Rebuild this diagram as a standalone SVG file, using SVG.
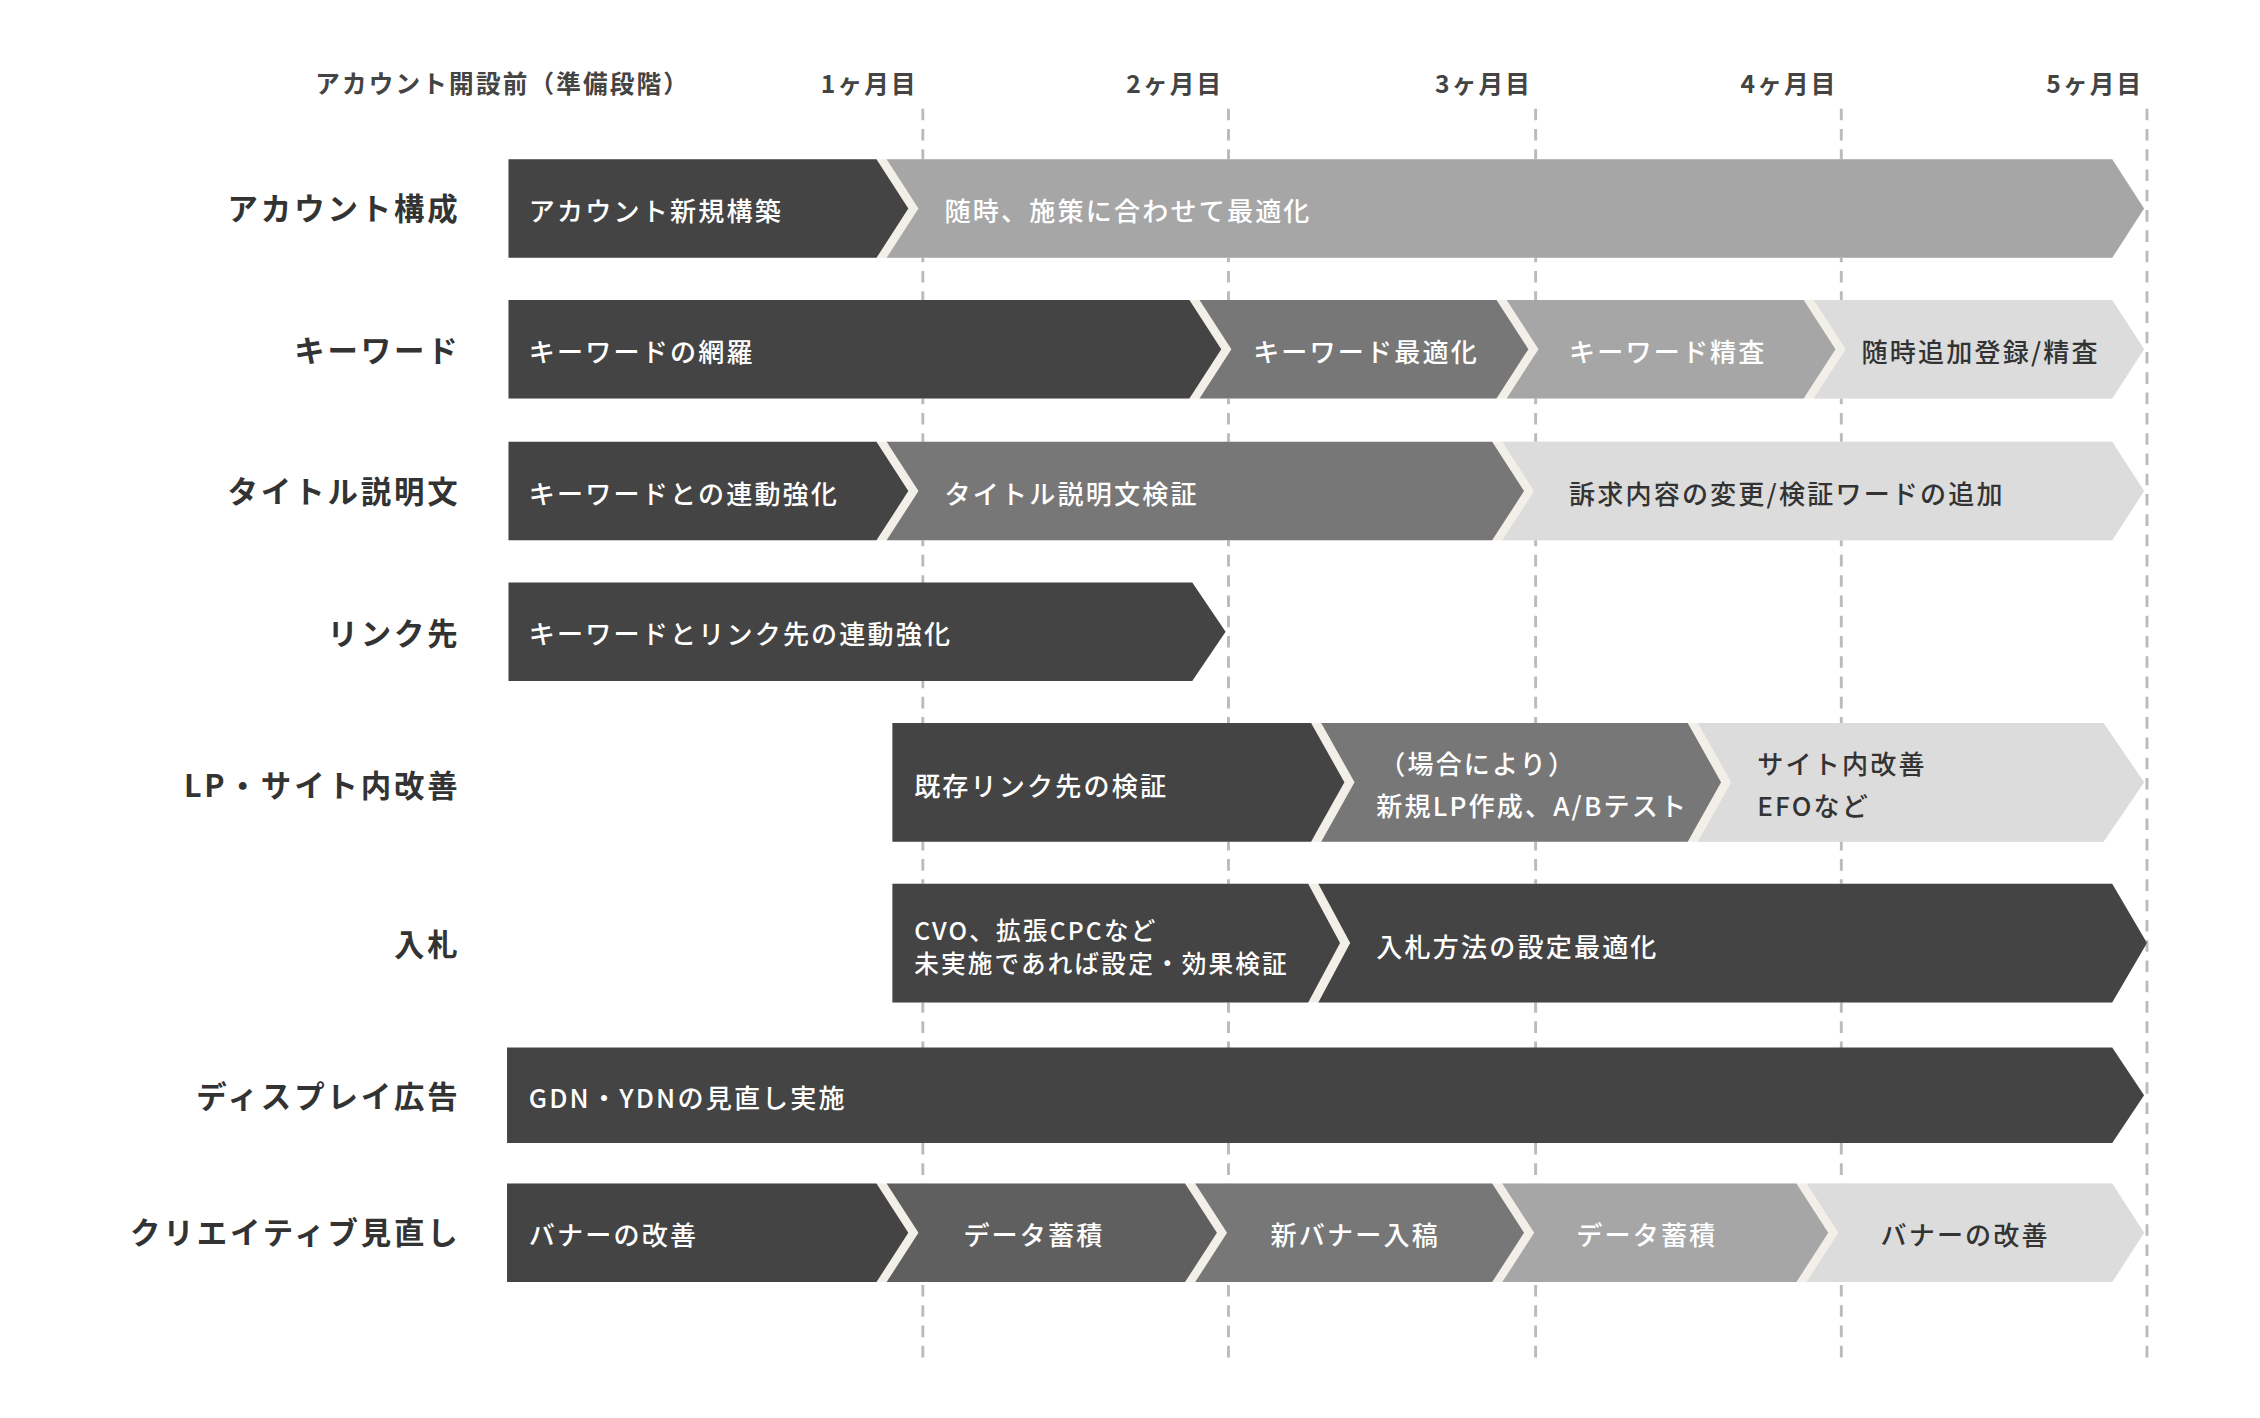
<svg xmlns="http://www.w3.org/2000/svg" width="2260" height="1418" viewBox="0 0 2260 1418">
<style>
.hd{font-family:"Noto Sans CJK JP","Noto Sans",sans-serif;font-weight:700;font-size:17px;fill:#444;letter-spacing:1.5px}
.rl{font-family:"Noto Sans CJK JP","Noto Sans",sans-serif;font-weight:700;font-size:21px;fill:#333;letter-spacing:2px;text-anchor:end}
.t{font-family:"Noto Sans CJK JP","Noto Sans",sans-serif;font-weight:500;font-size:18px;fill:#fff;letter-spacing:1.5px;dominant-baseline:central}
.d{fill:#333}
.bg{fill:#f2efe8}
.c1{fill:#444}.c2{fill:#5f5f5f}.c3{fill:#777}.c4{fill:#a6a6a6}.c5{fill:#dcdcdc}
.grid{stroke:#bbb;stroke-width:2;stroke-dasharray:8 6}
</style>
<rect width="2260" height="1418" fill="#fff"/>
<g transform="scale(1.4487)">
<g id="grid">
<line class="grid" x1="637" y1="75" x2="637" y2="942"/>
<line class="grid" x1="848" y1="75" x2="848" y2="942"/>
<line class="grid" x1="1060" y1="75" x2="1060" y2="942"/>
<line class="grid" x1="1271" y1="75" x2="1271" y2="942"/>
<line class="grid" x1="1482" y1="75" x2="1482" y2="942"/>
</g>
<g id="header">
<text class="hd" x="347" y="64" text-anchor="middle">アカウント開設前（準備段階）</text>
<text class="hd" x="600" y="64" text-anchor="middle">1ヶ月目</text>
<text class="hd" x="811" y="64" text-anchor="middle">2ヶ月目</text>
<text class="hd" x="1024" y="64" text-anchor="middle">3ヶ月目</text>
<text class="hd" x="1235" y="64" text-anchor="middle">4ヶ月目</text>
<text class="hd" x="1446" y="64" text-anchor="middle">5ヶ月目</text>
</g>
<g id="labels">
<text class="rl" x="318" y="152">アカウント構成</text>
<text class="rl" x="318" y="250">キーワード</text>
<text class="rl" x="318" y="347">タイトル説明文</text>
<text class="rl" x="318" y="445">リンク先</text>
<text class="rl" x="318" y="550">LP・サイト内改善</text>
<text class="rl" x="318" y="660">入札</text>
<text class="rl" x="318" y="765">ディスプレイ広告</text>
<text class="rl" x="318" y="859">クリエイティブ見直し</text>
</g>
<g id="row1">
<polygon class="bg" points="351,110 1458,110 1480,144 1458,178 351,178"/>
<polygon class="c1" points="351,110 605,110 627,144 605,178 351,178"/>
<polygon class="c4" points="612,110 1458,110 1480,144 1458,178 612,178 634,144"/>
<text class="t" x="365" y="145">アカウント新規構築</text>
<text class="t" x="652" y="145">随時、施策に合わせて最適化</text>
</g>
<g id="row2">
<polygon class="bg" points="351,207 1458,207 1480,241 1458,275 351,275"/>
<polygon class="c1" points="351,207 821,207 843,241 821,275 351,275"/>
<polygon class="c3" points="828,207 1033,207 1055,241 1033,275 828,275 850,241"/>
<polygon class="c4" points="1040,207 1245,207 1267,241 1245,275 1040,275 1062,241"/>
<polygon class="c5" points="1252,207 1458,207 1480,241 1458,275 1252,275 1274,241"/>
<text class="t" x="365" y="242">キーワードの網羅</text>
<text class="t" x="865" y="242">キーワード最適化</text>
<text class="t" x="1083" y="242">キーワード精査</text>
<text class="t" x="1285" y="242" style="fill:#333">随時追加登録/精査</text>
</g>
<g id="row3">
<polygon class="bg" points="351,305 1458,305 1480,339 1458,373 351,373"/>
<polygon class="c1" points="351,305 605,305 627,339 605,373 351,373"/>
<polygon class="c3" points="612,305 1030,305 1052,339 1030,373 612,373 634,339"/>
<polygon class="c5" points="1037,305 1458,305 1480,339 1458,373 1037,373 1059,339"/>
<text class="t" x="365" y="340">キーワードとの連動強化</text>
<text class="t" x="652" y="340">タイトル説明文検証</text>
<text class="t" x="1083" y="340" style="fill:#333">訴求内容の変更/検証ワードの追加</text>
</g>
<g id="row4">
<polygon class="c1" points="351,402 823,402 846,436 823,470 351,470"/>
<text class="t" x="365" y="437">キーワードとリンク先の連動強化</text>
</g>
<g id="row5">
<polygon class="bg" points="616,499 1452,499 1480,540 1452,581 616,581"/>
<polygon class="c1" points="616,499 905,499 928,540 905,581 616,581"/>
<polygon class="c3" points="912,499 1165,499 1188,540 1165,581 912,581 935,540"/>
<polygon class="c5" points="1172,499 1452,499 1480,540 1452,581 1172,581 1195,540"/>
<text class="t" x="631" y="542">既存リンク先の検証</text>
<text class="t" x="952" y="527">（場合により）</text>
<text class="t" x="950" y="556">新規LP作成、A/Bテスト</text>
<text class="t" x="1213" y="527" style="fill:#333">サイト内改善</text>
<text class="t" x="1213" y="556" style="fill:#333">EFOなど</text>
</g>
<g id="row6">
<polygon class="bg" points="616,610 1458,610 1482,651 1458,692 616,692"/>
<polygon class="c1" points="616,610 903,610 925,651 903,692 616,692"/>
<polygon class="c1" points="910,610 1458,610 1482,651 1458,692 910,692 932,651"/>
<text class="t" x="631" y="641" style="font-size:17px">CVO、拡張CPCなど</text>
<text class="t" x="631" y="664" style="font-size:17px">未実施であれば設定・効果検証</text>
<text class="t" x="950" y="653">入札方法の設定最適化</text>
</g>
<g id="row7">
<polygon class="c1" points="350,723 1458,723 1480,756 1458,789 350,789"/>
<text class="t" x="365" y="757">GDN・YDNの見直し実施</text>
</g>
<g id="row8">
<polygon class="bg" points="350,817 1458,817 1480,851 1458,885 350,885"/>
<polygon class="c1" points="350,817 605,817 627,851 605,885 350,885"/>
<polygon class="c2" points="612,817 818,817 840,851 818,885 612,885 634,851"/>
<polygon class="c3" points="825,817 1030,817 1052,851 1030,885 825,885 847,851"/>
<polygon class="c4" points="1037,817 1240,817 1262,851 1240,885 1037,885 1059,851"/>
<polygon class="c5" points="1247,817 1458,817 1480,851 1458,885 1247,885 1269,851"/>
<text class="t" x="365" y="852">バナーの改善</text>
<text class="t" x="665" y="852">データ蓄積</text>
<text class="t" x="877" y="852">新バナー入稿</text>
<text class="t" x="1088" y="852">データ蓄積</text>
<text class="t" x="1298" y="852" style="fill:#333">バナーの改善</text>
</g>
</g>
</svg>
